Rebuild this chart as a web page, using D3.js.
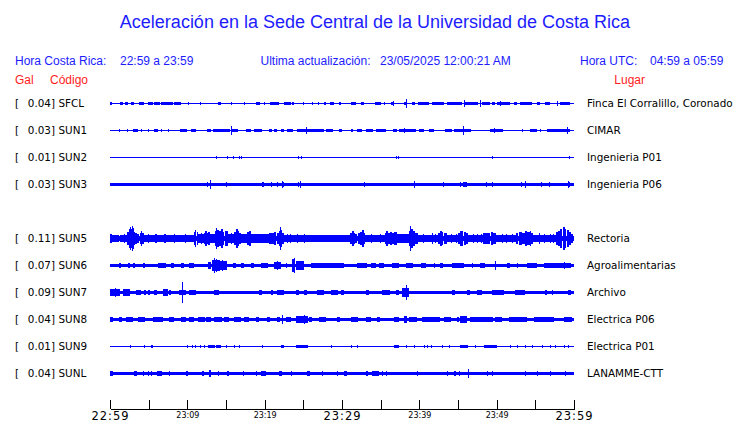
<!DOCTYPE html>
<html><head><meta charset="utf-8">
<script src="https://cdn.jsdelivr.net/npm/d3@7"></script>
<style>
body{margin:0;background:#fff;}
svg{display:block;}
</style></head>
<body>
<svg id="chart" width="740" height="423"></svg>
<script>
// ---------------- DATA ----------------
const title = "Aceleración en la Sede Central de la Universidad de Costa Rica";
const horaCR = "22:59 a 23:59";
const horaUTC = "04:59 a 05:59";
const ultima = "23/05/2025 12:00:21 AM";

const codes  = ["SFCL","SUN1","SUN2","SUN3","SUN5","SUN6","SUN7","SUN8","SUN9","SUNL"];
const slots  = [0,1,2,3,5,6,7,8,9,10];          // row slot (slot 4 empty)
const peaks  = [0.04,0.03,0.01,0.03,0.11,0.07,0.09,0.04,0.01,0.04];
const places = ["Finca El Corralillo, Coronado","CIMAR","Ingenieria P01","Ingenieria P06","Rectoria","Agroalimentarias","Archivo","Electrica P06","Electrica P01","LANAMME-CTT"];

// background noise half-amplitude per station (mGal)
const noise = [5,5,4,15,21,12,12,15,4,15];

// minutes since 22:59 of axis ticks and their labels
const tickMinutes = [0,5,10,15,20,25,30,35,40,45,50,55,60];
const tickLabels  = ["22:59","","23:09","","23:19","","23:29","","23:39","","23:49","","23:59"];
const majorTicks  = [0,30,60];

// bursts: [startMin, endMin, halfAmplitude mGal]
const evSFCL = [[0,0.2,12],[1.42,1.85,12],[2.02,2.45,12],[2.8,3.23,10],[3.87,4.52,12],[4.95,5.59,12],[5.81,6.58,12],[6.67,8.17,13],[8.39,9.25,12],[10.2,10.2,9],[11.7,11.7,9],[13.98,14.41,10],[15.7,15.7,10],[17.42,17.42,9],[18.92,19.48,12],[20,20,10],[20.73,20.73,15],[20.86,21.94,12],[22.58,23.44,12],[23.66,23.87,10],[25.03,25.03,9],[26.24,26.24,9],[27.01,27.01,9],[27.74,27.96,10],[28.52,29.03,12],[29.68,29.98,10],[31.18,31.83,12],[32.47,32.9,10],[34.28,35.05,12],[35.48,35.48,9],[36.43,36.77,14],[36.6,36.6,24],[38.06,38.49,14],[38.28,38.28,40],[39.14,39.57,12],[39.87,41.29,13],[41.72,43.23,12],[43.66,45.59,12],[45.81,45.81,30],[46.02,47.74,13],[47.87,47.87,28],[48.17,49.25,12],[49.46,49.89,12],[50.11,51.83,12],[50.45,50.45,24],[52.26,52.69,12],[53.12,54.62,12],[55.27,55.7,10],[56.34,56.99,12],[57.85,57.85,21],[58.28,59.57,12]];
const evSUN1 = [[1.29,1.29,9],[2.28,2.28,9],[3.01,3.66,10],[4.09,4.09,9],[4.95,4.95,9],[5.72,6.24,10],[6.67,6.67,9],[7.53,7.53,9],[9.16,10.11,12],[10.54,11.18,10],[12.6,13.12,10],[13.33,15.48,12],[15.66,15.66,38],[15.7,16.56,12],[17.63,18.28,10],[18.71,19.78,10],[20.65,21.08,10],[21.29,21.72,10],[22.15,22.58,10],[22.92,23.66,10],[24.22,25.16,10],[25.16,27.74,12],[25.46,25.46,30],[27.96,28.82,10],[29.68,30.11,10],[31.18,31.4,10],[32.04,32.69,10],[33.12,33.98,10],[34.41,35.7,12],[36.69,37.2,12],[37.42,39.57,12],[38.1,38.1,18],[40,40.65,10],[41.29,41.94,10],[43.44,44.3,12],[44.52,46.67,12],[45.68,45.68,35],[49.25,50.97,12],[49.75,49.75,21],[53.33,53.33,9],[54.41,55.27,10],[55.7,55.7,9],[56.56,59.57,12],[59.14,59.14,30]];
const evSUN2 = [[13.76,13.76,12],[15.18,15.18,6],[15.91,15.91,6],[16.69,16.69,8],[16.99,16.99,8],[24.39,24.39,14],[24.73,24.73,14],[36.99,36.99,12],[37.29,37.29,8],[49.46,49.46,8],[59.44,59.44,8]];
const evSUN3 = [[12.6,12.6,21],[12.95,12.95,37],[15.01,15.01,21],[19.7,19.95,24],[20.82,20.82,18],[21.6,21.6,18],[22.28,22.28,31],[22.4,22.5,22],[24.43,24.43,24],[24.69,24.69,31],[32.9,32.9,24],[39.4,39.4,31],[43.18,43.18,21],[45.38,45.38,18],[45.68,46.24,24],[48.69,48.69,18],[49.46,49.46,24],[53.2,53.2,18],[53.76,53.76,31],[55.79,55.79,21],[56.82,56.82,21],[59.27,59.27,28],[59.3,59.6,20]];
const evSUN5 = [[0,0.2,40],[0.2,0.43,30],[0.43,1.0,27],[1.0,1.3,33],[1.3,2.15,27],[1.9,2.0,40],
 [2.3,2.5,60],[2.5,2.7,85],[2.7,2.8,105],[2.8,2.95,80],[2.95,3.05,110],[3.05,3.2,90],[3.2,3.35,60],[3.35,3.6,45],[3.6,3.9,35],
 [3.9,4.1,50],[4.1,4.25,67],[4.25,4.5,45],[4.5,5.4,33],[5.0,5.05,40],
 [5.4,10.9,26],[5.9,6.1,40],[6.3,6.4,33],[7.0,7.25,37],[7.6,7.7,30],[8.3,8.45,37],[8.9,9.0,30],[9.8,9.95,34],[10.4,10.5,30],
 [10.95,11.1,60],[11.1,11.25,78],[11.25,11.4,55],[11.4,12.2,36],[11.8,11.9,45],
 [12.2,12.4,50],[12.4,12.6,64],[12.6,12.8,52],[12.8,13.0,60],[13.0,13.6,34],
 [13.65,13.75,70],[13.75,13.9,95],[13.9,14.1,75],[14.1,14.4,65],[14.4,14.6,80],[14.6,14.9,55],[14.9,15.3,65],[15.3,16.1,36],[15.7,15.8,45],
 [16.1,16.3,60],[16.3,16.5,80],[16.5,16.7,65],[16.7,17.0,50],[17.0,17.8,34],[17.3,17.4,42],
 [17.8,18.0,55],[18.0,18.2,63],[18.2,20.6,34],[18.9,19.0,42],[19.6,19.7,40],[20.1,20.2,38],
 [20.6,20.9,50],[20.9,21.3,44],[21.3,21.6,55],[21.6,21.9,48],[21.9,22.05,62],[22.05,22.15,105],[22.15,22.3,75],[22.3,22.6,45],
 [22.6,25.6,30],[22.9,23.0,43],[23.4,23.5,36],[24.3,24.4,38],[25.1,25.2,38],
 [25.6,31.1,25],[26.5,26.6,28],[28.3,28.4,28],[30.0,30.1,27],
 [31.1,31.3,45],[31.3,31.5,67],[31.5,31.8,50],[31.8,32.1,40],[32.1,32.4,48],[32.4,32.6,60],[32.6,32.8,78],[32.8,33.0,50],
 [33.0,35.6,29],[33.8,33.9,36],[34.6,34.7,33],[35.0,35.1,37],
 [35.6,35.8,50],[35.8,36.0,62],[36.0,36.3,45],[36.3,36.5,58],[36.5,36.8,48],[36.8,37.2,55],
 [37.2,38.7,35],[37.6,37.7,42],[38.2,38.3,40],
 [38.7,38.85,65],[38.85,39.0,108],[39.0,39.2,80],[39.2,39.4,62],[39.4,39.9,48],
 [39.9,42.5,30],[40.6,40.7,37],[41.7,41.8,44],[42.1,42.2,36],
 [42.5,42.7,50],[42.7,42.9,62],[42.9,43.2,55],[43.2,43.6,46],
 [43.6,45.1,30],[44.2,44.3,37],[44.8,44.9,36],
 [45.1,45.3,50],[45.3,45.5,62],[45.5,45.8,68],[45.8,46.1,58],[46.1,46.4,48],
 [46.4,48.3,31],[47.0,47.1,37],[47.5,47.6,40],[48.0,48.1,34],
 [48.3,48.7,45],[48.7,49.0,52],[49.0,49.3,47],[49.3,49.6,60],[49.6,50.0,52],
 [50.0,52.6,30],[50.7,50.8,38],[51.3,51.4,35],[52.0,52.1,36],
 [52.6,52.9,48],[52.9,53.3,58],[53.3,53.7,50],[53.7,54.0,62],[54.0,54.4,55],[54.4,54.5,68],[54.5,54.8,50],
 [54.8,57.8,30],[55.6,55.7,46],[56.2,56.3,35],[56.9,57.0,38],[57.4,57.5,35],
 [57.8,58.0,55],[58.0,58.3,70],[58.3,58.6,82],[58.6,58.8,104],[58.8,59.1,85],[59.1,59.4,75],[59.4,59.6,55],[59.6,60,40]];
const evSUN6 = [[1.29,1.59,18],[2.37,2.58,18],[3.01,3.31,18],[4.3,4.6,18],[6.24,7.31,21],[7.96,8.39,18],[9.25,9.68,18],[10.32,10.97,21],[12.69,13.12,31],[13.2,14.19,50],[13.5,13.6,70],[13.8,13.9,60],[14.19,15.27,34],[14.6,14.7,45],[15.91,16.34,24],[16.99,17.42,21],[18.28,18.71,18],[19.57,20.43,24],[21.29,22.15,30],[21.7,21.8,37],[22.8,22.8,18],[23.66,24.09,55],[23.8,23.9,64],[24.09,25.16,34],[26.02,30.32,20],[26.45,26.45,24],[27.74,27.74,24],[29.46,29.46,24],[32.04,33.33,21],[33.76,34.41,18],[34.84,35.48,21],[36.56,37.42,21],[38.28,39.14,21],[40.22,40.86,21],[41.94,41.94,18],[42.8,43.23,18],[44.3,45.81,21],[46.88,46.88,24],[47.96,48.6,18],[49.89,49.89,37],[51.4,51.83,18],[52.69,52.69,18],[54.0,55.31,21],[56.13,59.57,21],[58.71,58.71,28]];
const evSUN7 = [[0,1.29,31],[0.65,0.65,43],[1.72,2.58,31],[3.44,4.09,24],[4.44,4.74,21],[4.95,5.16,18],[5.81,6.24,24],[6.88,7.53,31],[7.74,7.96,18],[9.03,9.89,24],[9.33,9.33,95],[10.32,11.18,24],[12.47,12.69,15],[13.55,14.19,18],[15.91,16.56,15],[17.2,17.63,15],[18.28,18.71,15],[19.35,19.78,18],[20.86,21.08,18],[21.72,22.58,24],[24.09,24.52,24],[25.16,25.59,18],[26.88,27.74,18],[28.6,29.46,18],[29.98,30.32,24],[33.12,33.55,24],[35.27,36.34,21],[37.0,37.42,18],[37.85,38.71,40],[38.28,38.28,64],[40.43,41.29,15],[42.37,43.23,15],[44.3,44.73,21],[46.24,46.67,24],[47.53,48.17,18],[49.46,50.97,18],[51.18,51.83,15],[52.47,53.76,18],[54.84,55.27,15],[56.34,56.56,24],[57.2,57.2,18],[59.35,59.78,18]];
const evSUN8 = [[0,0.43,18],[1.29,1.72,21],[2.15,3.01,21],[3.66,4.52,18],[5.59,6.88,21],[7.74,8.39,21],[9.25,9.89,21],[10.32,10.97,24],[11.4,12.26,21],[12.47,13.12,18],[13.55,14.62,24],[14.84,15.48,21],[16.13,16.99,21],[17.42,18.06,21],[18.92,19.35,18],[20.43,20.86,21],[21.72,22.15,21],[22.37,22.37,40],[22.8,23.44,21],[24.09,25.59,28],[25.16,25.16,37],[25.81,26.24,21],[27.1,27.96,21],[29.46,29.89,18],[31.18,32.04,21],[33.12,33.76,21],[34.62,35.05,18],[36.77,37.42,21],[38.06,38.49,31],[38.71,39.78,21],[40.43,42.8,21],[43.23,44.09,21],[44.95,45.16,18],[45.38,46.24,28],[46.67,49.68,21],[49.89,50.75,24],[51.61,53.98,21],[54.84,57.42,21],[58.71,59.78,21]];
const evSUN9 = [[2.71,2.71,10],[4.43,4.43,10],[5.38,5.59,10],[10.02,10.02,9],[10.62,10.62,9],[11.1,11.1,9],[11.7,11.7,9],[12.26,12.26,9],[12.69,13.55,10],[13.76,14.41,10],[15.05,15.05,9],[16.13,16.13,9],[16.77,16.77,9],[19.78,19.78,9],[22.15,22.58,10],[24.09,25.59,10],[28.6,28.6,9],[31.27,31.27,10],[32.04,32.04,9],[36.77,37.42,10],[38.28,38.28,9],[39.35,39.35,10],[40.65,40.65,9],[41.08,41.08,9],[41.63,41.63,10],[43.01,43.01,9],[43.87,43.87,9],[45.38,46.45,10],[47.31,47.31,9],[48.39,50.11,10],[51.83,51.83,10],[52.69,52.69,9],[53.76,53.76,9],[54.62,54.62,9],[55.91,55.91,9],[56.99,56.99,9],[57.63,57.63,9],[58.71,58.71,10],[59.27,59.27,9]];
const evSUNL = [[0,0.43,21],[3.23,3.66,24],[4.3,4.3,21],[4.95,4.95,21],[5.38,5.38,21],[6.15,6.75,24],[7.74,7.74,21],[9.89,10.11,21],[11.91,12.17,21],[12.9,13.2,28],[13.98,13.98,21],[15.18,15.44,24],[17.2,17.2,21],[18.92,18.92,21],[19.57,20.22,20],[21.94,22.37,21],[23.44,23.44,21],[25.59,26.02,21],[27.53,27.53,21],[29.46,29.46,21],[30.32,30.75,20],[33.12,33.33,21],[33.98,34.84,20],[35.27,35.27,21],[35.7,35.7,21],[39.78,39.78,21],[43.66,43.66,21],[44.52,44.52,21],[44.73,44.73,21],[45.16,45.16,21],[46.32,46.32,40],[48.82,48.82,21],[49.46,49.46,21],[53.76,53.76,21],[55.27,55.27,21],[56.99,56.99,21],[58.92,58.92,21]];
const events = [evSFCL,evSUN1,evSUN2,evSUN3,evSUN5,evSUN6,evSUN7,evSUN8,evSUN9,evSUNL];

// ---------------- DRAW ----------------
const blue = "#0000ff", textBlue = "#1c1cff", red = "#ff1c1c";
const svg = d3.select("#chart");
const x = d3.scaleLinear().domain([0,60]).range([110,574]);
const y = d3.scaleLinear().domain([0,10]).range([103,373]);
const amp = d3.scaleLinear().domain([0,110]).range([0,12]);
const half = v => Math.floor(amp(v) + 0.3);   // pixel half-height

svg.append("text").attr("x",375).attr("y",28).attr("text-anchor","middle")
  .attr("font-family","Liberation Sans, Arial, sans-serif").attr("font-size",18)
  .attr("fill",textBlue).text(title);

const hdr = svg.append("g").attr("font-family","Liberation Sans, Arial, sans-serif").attr("font-size",12).attr("fill",textBlue);
hdr.append("text").attr("x",15).attr("y",65).text("Hora Costa Rica:");
hdr.append("text").attr("x",120).attr("y",65).text(horaCR);
hdr.append("text").attr("x",260.5).attr("y",65).text("Ultima actualización:");
hdr.append("text").attr("x",380).attr("y",65).text(ultima);
hdr.append("text").attr("x",580).attr("y",65).text("Hora UTC:");
hdr.append("text").attr("x",650).attr("y",65).text(horaUTC);
const hr = svg.append("g").attr("font-family","Liberation Sans, Arial, sans-serif").attr("font-size",12).attr("fill",red);
hr.append("text").attr("x",15).attr("y",84).text("Gal");
hr.append("text").attr("x",50).attr("y",84).text("Código");
hr.append("text").attr("x",645).attr("y",84).attr("text-anchor","end").text("Lugar");

const rows = svg.append("g").selectAll("g").data(codes).join("g")
  .attr("transform",(d,i)=>`translate(0,${y(slots[i])})`);
const lf = "DejaVu Sans, sans-serif";
rows.append("text").attr("x",15).attr("y",4).attr("font-family",lf).attr("font-size",10.4).text("[");
rows.append("text").attr("x",55).attr("y",4).attr("text-anchor","end").attr("font-family",lf).attr("font-size",10.4)
  .text((d,i)=>peaks[i].toFixed(2)+"]");
rows.append("text").attr("x",58.5).attr("y",4).attr("font-family",lf).attr("font-size",10.4).text(d=>d);
rows.append("text").attr("x",587).attr("y",4).attr("font-family",lf).attr("font-size",10.4).text((d,i)=>places[i]);

// base noise band
rows.append("rect").attr("shape-rendering","crispEdges").attr("fill",blue)
  .attr("x",x(0)).attr("width",x(60)-x(0))
  .attr("y",(d,i)=>-half(noise[i]))
  .attr("height",(d,i)=>2*half(noise[i])+1);
// bursts
rows.each(function(d,i){
  d3.select(this).selectAll("rect.ev").data(events[i]).join("rect").attr("class","ev")
    .attr("shape-rendering","crispEdges").attr("fill",blue)
    .attr("x",e=>Math.floor(x(e[0]))).attr("width",e=>Math.max(1,Math.round(x(e[1])-x(e[0]))))
    .attr("y",e=>-Math.max(1,half(e[2]))).attr("height",e=>2*Math.max(1,half(e[2]))+1);
});

// time axis
const axis = d3.axisBottom(x).tickValues(tickMinutes).tickSizeInner(-9).tickSizeOuter(0)
  .tickPadding(3).tickFormat((d,i)=>tickLabels[i]);
const ag = svg.append("g").attr("transform","translate(0,409)").call(axis);
ag.select(".domain").attr("stroke","#000").attr("shape-rendering","crispEdges");
ag.selectAll(".tick line").attr("stroke","#000").attr("shape-rendering","crispEdges");
ag.selectAll(".tick text").attr("fill","#000").attr("font-family",lf)
  .attr("font-size",d=>majorTicks.includes(d)?11.5:8)
  .attr("letter-spacing",d=>majorTicks.includes(d)?"1px":null)
  .attr("dy",d=>majorTicks.includes(d)?"0.72em":"0.7em");
</script>
</body></html>
